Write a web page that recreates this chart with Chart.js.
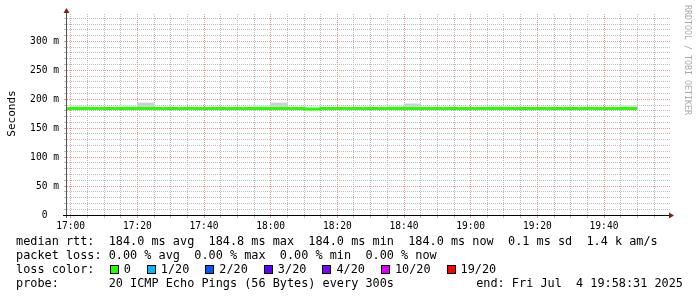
<!DOCTYPE html>
<html>
<head>
<meta charset="utf-8">
<script src="https://cdn.jsdelivr.net/npm/chart.js@4/dist/chart.umd.min.js"></script>
<style>
  html, body { margin: 0; padding: 0; background: #fff; }
</style>
</head>
<body>
<canvas id="chart" width="697" height="297"></canvas>
<script>
// 5 minute bins, minutes after 17:00
const binStart = [-5, 0, 5, 10, 15, 20, 25, 30, 35, 40, 45, 50, 55, 60, 65, 70, 75, 80,
  85, 90, 95, 100, 105, 110, 115, 120, 125, 130, 135, 140, 145, 150, 155, 160, 165];
const binEnd = 170;

// median rtt in ms
const medianMs = [184.0, 184.0, 184.0, 184.0, 184.0, 184.0, 184.0, 184.0, 184.0, 184.0,
  184.0, 184.0, 184.0, 184.0, 184.0, 183.2, 184.0, 184.0, 184.0, 184.0,
  184.0, 184.0, 184.0, 184.0, 184.0, 184.0, 184.0, 184.0, 184.0, 184.0,
  184.0, 184.0, 184.0, 184.0, 184.0];

// top of the smoke (ms), light and dark shades
const smokeLight = [null, 188.5, null, null, 188.5, null, null, null, null, null,
  null, null, 188.5, null, null, null, null, null, null, null,
  188.5, null, null, null, null, null, 187.8, null, null, null,
  null, null, null, null, 188.8];
const smokeDark = [null, null, null, null, null, 193.6, null, null, null, null,
  null, null, null, 193.6, null, null, null, null, null, null,
  null, 192.0, null, null, null, null, null, null, null, null,
  null, null, null, null, null];

// grid steps (minutes / ms)
const xGridMinutes = [0, 5, 10, 15, 20, 25, 30, 35, 40, 45, 50, 55, 60, 65, 70, 75, 80, 85,
  90, 95, 100, 105, 110, 115, 120, 125, 130, 135, 140, 145, 150, 155, 160, 165, 170, 175];
const xTickLabels = ['17:00', '17:20', '17:40', '18:00', '18:20', '18:40', '19:00', '19:20', '19:40'];
const yTickLabels = ['0', '50 m', '100 m', '150 m', '200 m', '250 m', '300 m'];

const legendRows = [
  'median rtt:  184.0 ms avg  184.8 ms max  184.0 ms min  184.0 ms now  0.1 ms sd  1.4 k am/s',
  'packet loss: 0.00 % avg  0.00 % max  0.00 % min  0.00 % now',
  'loss color:',
  'probe:       20 ICMP Echo Pings (56 Bytes) every 300s'
];
const endText = 'end: Fri Jul  4 19:58:31 2025';
const lossLabels = ['0', '1/20', '2/20', '3/20', '4/20', '10/20', '19/20'];
const lossColors = ['#26ff00', '#00b8ff', '#0059ff', '#5e00ff', '#7e00ff', '#dd00ff', '#ff0000'];

const MONO = '"DejaVu Sans Mono", monospace';
const MINOR = '#bdbdbd';
const MAJOR = '#eb9595';

const medianPoints = binStart.map((t, i) => ({ x: t, y: medianMs[i] }));
medianPoints.push({ x: binEnd, y: medianMs[medianMs.length - 1] });

function smokeBars(tops) {
  return binStart
    .map((t, i) => tops[i] == null ? null : { x: t + 2.5, y: [medianMs[i], tops[i]] })
    .filter(Boolean);
}

const isMajorX = v => v % 20 === 0;
const isMajorY = v => v % 50 === 0;

const decor = {
  id: 'decor',
  beforeDatasetsDraw(chart) {
    // dotted rrdtool style grid, one pixel on, one off
    const { ctx, chartArea: a, scales: { x, y } } = chart;
    ctx.save();
    [false, true].forEach(major => {
      ctx.fillStyle = major ? MAJOR : MINOR;
      xGridMinutes.forEach(v => {
        if (isMajorX(v) !== major) return;
        const px = Math.floor(x.getPixelForValue(v));
        for (let py = a.bottom - 1; py >= a.top; py -= 2) ctx.fillRect(px, py, 1, 1);
      });
      y.ticks.forEach(t => {
        if (isMajorY(t.value) !== major || t.value === 0) return;
        const py = Math.floor(y.getPixelForValue(t.value));
        for (let px = a.left; px <= a.right + 2; px += 2) ctx.fillRect(px, py, 1, 1);
      });
    });
    ctx.restore();
  },
  afterDatasetsDraw(chart) {
    const ctx = chart.ctx;
    const a = chart.chartArea;
    ctx.save();
    // y axis
    ctx.strokeStyle = '#555';
    ctx.lineWidth = 1;
    ctx.beginPath();
    ctx.moveTo(a.left - 0.5, a.bottom + 3);
    ctx.lineTo(a.left - 0.5, a.top - 1);
    ctx.stroke();
    // x axis
    ctx.strokeStyle = '#000';
    ctx.beginPath();
    ctx.moveTo(a.left - 4, a.bottom + 0.5);
    ctx.lineTo(a.right + 2, a.bottom + 0.5);
    ctx.stroke();
    // arrows
    ctx.fillStyle = '#801f1f';
    ctx.beginPath();
    ctx.moveTo(a.left - 0.5, a.top - 6);
    ctx.lineTo(a.left - 3.5, a.top - 1);
    ctx.lineTo(a.left + 2.5, a.top - 1);
    ctx.closePath();
    ctx.fill();
    ctx.beginPath();
    ctx.moveTo(a.right + 7, a.bottom + 0.5);
    ctx.lineTo(a.right + 2, a.bottom - 2.5);
    ctx.lineTo(a.right + 2, a.bottom + 3.5);
    ctx.closePath();
    ctx.fill();
    ctx.restore();
  },
  afterDraw(chart) {
    const ctx = chart.ctx;
    ctx.save();
    ctx.fillStyle = '#000';
    ctx.textBaseline = 'alphabetic';

    // y title
    ctx.font = '11px ' + MONO;
    ctx.save();
    ctx.translate(15, 113.5);
    ctx.rotate(-Math.PI / 2);
    ctx.textAlign = 'center';
    ctx.fillText('Seconds', 0, 0);
    ctx.restore();

    // watermark
    ctx.save();
    ctx.font = '8.3px ' + MONO;
    ctx.fillStyle = '#aaa';
    ctx.translate(685, 5);
    ctx.rotate(Math.PI / 2);
    ctx.textAlign = 'left';
    ctx.fillText('RRDTOOL / TOBI OETIKER', 0, 0);
    ctx.restore();

    // legend
    ctx.font = '11.85px ' + MONO;
    ctx.textAlign = 'left';
    const baselines = [245, 259, 273, 287];
    legendRows.forEach((row, i) => ctx.fillText(row, 16, baselines[i]));

    let cur = 16 + ctx.measureText('loss color:  ').width;
    lossLabels.forEach((lbl, i) => {
      const bx = Math.round(cur) + 1;
      ctx.fillStyle = lossColors[i];
      ctx.fillRect(bx, 265, 8, 8);
      ctx.strokeStyle = '#000';
      ctx.lineWidth = 1;
      ctx.strokeRect(bx + 0.5, 265.5, 8, 8);
      ctx.fillStyle = '#000';
      ctx.fillText(lbl, cur + 15, baselines[2]);
      cur = cur + 15 + ctx.measureText(lbl).width + 15;
    });

    ctx.textAlign = 'right';
    ctx.fillText(endText, 683, baselines[3]);
    ctx.restore();
  }
};

new Chart(document.getElementById('chart'), {
  type: 'line',
  data: {
    datasets: [
      {
        type: 'line',
        data: medianPoints,
        borderColor: lossColors[0],
        borderWidth: 3,
        stepped: 'before',
        pointRadius: 0,
        fill: false,
        borderCapStyle: 'butt',
        order: 0
      },
      {
        type: 'bar',
        data: smokeBars(smokeDark),
        backgroundColor: '#d0d0d0',
        borderWidth: 0,
        grouped: false,
        barPercentage: 1,
        categoryPercentage: 1,
        order: 1
      },
      {
        type: 'bar',
        data: smokeBars(smokeLight),
        backgroundColor: '#dedede',
        borderWidth: 0,
        grouped: false,
        barPercentage: 1,
        categoryPercentage: 1,
        order: 2
      }
    ]
  },
  options: {
    responsive: false,
    animation: false,
    devicePixelRatio: 1,
    layout: { padding: { left: 0, right: 30, top: 14, bottom: 0 } },
    plugins: { legend: { display: false }, tooltip: { enabled: false } },
    scales: {
      x: {
        type: 'linear',
        min: -1.1,
        max: 178.9,
        offset: false,
        afterFit: s => { s.height = 82; },
        afterBuildTicks: s => {
          s.ticks = xGridMinutes.map(v => ({ value: v }));
        },
        ticks: {
          autoSkip: false,
          maxRotation: 0,
          padding: 3,
          color: '#000',
          font: { family: MONO, size: 9.6 },
          callback: v => isMajorX(v) ? xTickLabels[v / 20] : ''
        },
        grid: {
          offset: false,
          drawOnChartArea: false,
          lineWidth: 1,
          tickLength: 3,
          color: c => c.tick && isMajorX(c.tick.value) ? MAJOR : MINOR
        },
        border: { display: false }
      },
      y: {
        type: 'linear',
        min: 0,
        max: 347.3,
        afterFit: s => { s.width = 67; },
        afterBuildTicks: s => {
          s.ticks = [];
          for (let v = 0; v <= 340; v += 10) s.ticks.push({ value: v });
        },
        ticks: {
          autoSkip: false,
          padding: 5,
          color: '#000',
          font: { family: MONO, size: 9.6 },
          callback: v => {
            if (!isMajorY(v)) return '';
            const l = yTickLabels[v / 50];
            return l.includes(' ') ? l : l + '  ';
          }
        },
        grid: {
          drawOnChartArea: false,
          lineWidth: 1,
          tickLength: 3,
          color: c => c.tick && isMajorY(c.tick.value) ? MAJOR : MINOR
        },
        border: { display: false }
      }
    }
  },
  plugins: [decor]
});
</script>
</body>
</html>
